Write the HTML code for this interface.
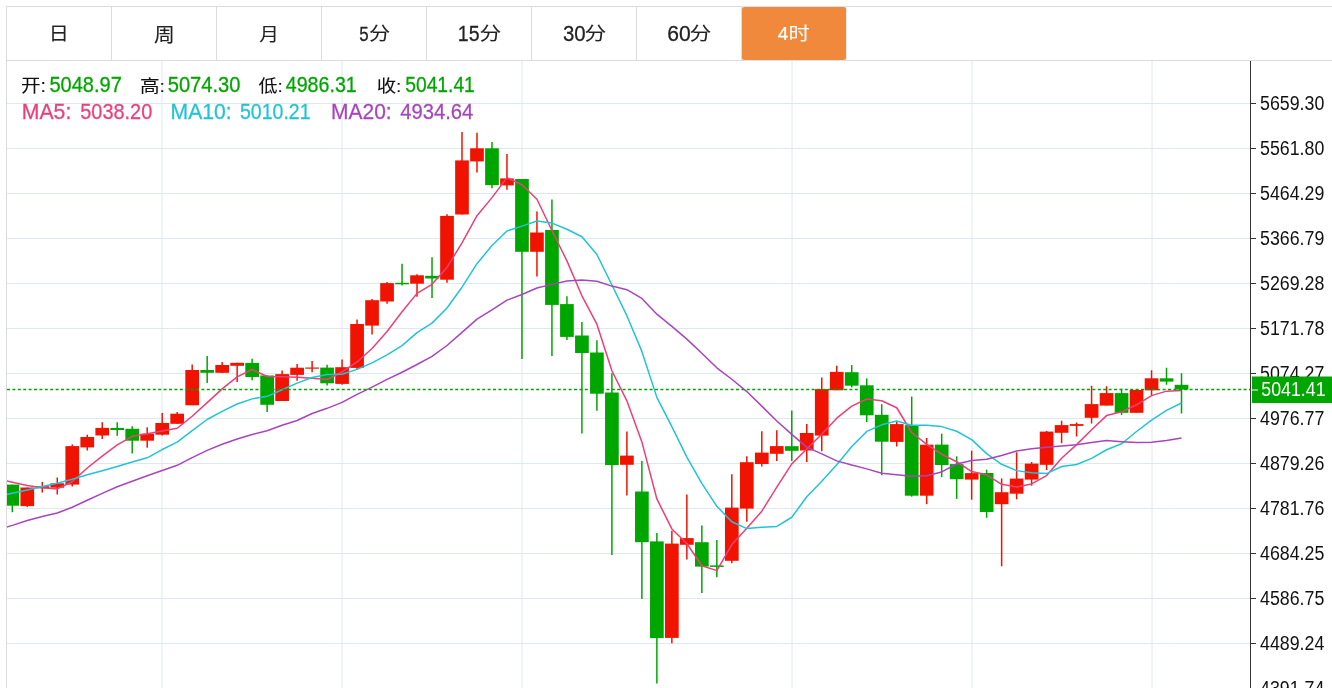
<!DOCTYPE html>
<html><head><meta charset="utf-8"><title>K线</title>
<style>
html,body{margin:0;padding:0;background:#fff;}
body{width:1332px;height:688px;overflow:hidden;position:relative;}
svg{position:absolute;left:0;top:0;}
.tab{font-family:"Liberation Sans","Noto Sans CJK SC",sans-serif;font-size:20px;fill:#222;text-anchor:middle;}
.ax{font-family:"Liberation Sans",sans-serif;font-size:19.5px;fill:#111;}
.hd{font-family:"Liberation Sans","Noto Sans CJK SC",sans-serif;font-size:20px;}
</style></head>
<body>
<svg width="1332" height="688" viewBox="0 0 1332 688">
<defs><clipPath id="pc"><rect x="7" y="61" width="1243.5" height="627"/></clipPath></defs>
<line x1="6" y1="6.5" x2="1332" y2="6.5" stroke="#dcdcdc" stroke-width="1"/>
<line x1="6" y1="60.5" x2="1332" y2="60.5" stroke="#dcdcdc" stroke-width="1"/>
<line x1="6.5" y1="6" x2="6.5" y2="688" stroke="#dcdcdc" stroke-width="1"/>
<rect x="741.5" y="6.5" width="105.5" height="54" fill="#e2e9ef"/>
<rect x="742" y="7" width="104" height="53" rx="2.5" ry="2.5" fill="#f0893c"/>
<line x1="111.5" y1="6" x2="111.5" y2="60" stroke="#dcdcdc" stroke-width="1"/>
<line x1="216.5" y1="6" x2="216.5" y2="60" stroke="#dcdcdc" stroke-width="1"/>
<line x1="321.5" y1="6" x2="321.5" y2="60" stroke="#dcdcdc" stroke-width="1"/>
<line x1="426.5" y1="6" x2="426.5" y2="60" stroke="#dcdcdc" stroke-width="1"/>
<line x1="531.5" y1="6" x2="531.5" y2="60" stroke="#dcdcdc" stroke-width="1"/>
<line x1="636.5" y1="6" x2="636.5" y2="60" stroke="#dcdcdc" stroke-width="1"/>
<line x1="741.5" y1="6" x2="741.5" y2="60" stroke="#dcdcdc" stroke-width="1"/>
<text id="t0" transform="translate(48.79,40.33) scale(0.9557,0.8822)" style='font-family:"Liberation Sans","Noto Sans CJK SC",sans-serif;font-size:21px' fill="#222" stroke="#222" stroke-width="0.08">日</text>
<text id="t1" transform="translate(153.9,41.94) scale(0.9931,0.9242)" style='font-family:"Liberation Sans","Noto Sans CJK SC",sans-serif;font-size:21px' fill="#222" stroke="#222" stroke-width="0.08">周</text>
<text id="t2" transform="translate(259.23,40.88) scale(0.936,0.862)" style='font-family:"Liberation Sans","Noto Sans CJK SC",sans-serif;font-size:21px' fill="#222" stroke="#222" stroke-width="0.08">月</text>
<text id="t3a" transform="translate(359.29,40.76) scale(0.8482,1.0544)" style='font-family:"Liberation Sans","Noto Sans CJK SC",sans-serif;font-size:20px' fill="#222" stroke="#222" stroke-width="0.25">5</text>
<text id="t3b" transform="translate(368.99,40.35) scale(1.0144,0.8762)" style='font-family:"Liberation Sans","Noto Sans CJK SC",sans-serif;font-size:21px' fill="#222" stroke="#222" stroke-width="0.08">分</text>
<text id="t4a" transform="translate(457.79,41.0) scale(0.9783,1.0891)" style='font-family:"Liberation Sans","Noto Sans CJK SC",sans-serif;font-size:20px' fill="#222" stroke="#222" stroke-width="0.25">15</text>
<text id="t4b" transform="translate(479.47,40.35) scale(1.0384,0.8762)" style='font-family:"Liberation Sans","Noto Sans CJK SC",sans-serif;font-size:21px' fill="#222" stroke="#222" stroke-width="0.08">分</text>
<text id="t5a" transform="translate(562.91,40.97) scale(1.0208,1.0891)" style='font-family:"Liberation Sans","Noto Sans CJK SC",sans-serif;font-size:20px' fill="#222" stroke="#222" stroke-width="0.25">30</text>
<text id="t5b" transform="translate(584.48,40.35) scale(1.0397,0.8762)" style='font-family:"Liberation Sans","Noto Sans CJK SC",sans-serif;font-size:21px' fill="#222" stroke="#222" stroke-width="0.08">分</text>
<text id="t6a" transform="translate(667.17,41.0) scale(1.0549,1.0891)" style='font-family:"Liberation Sans","Noto Sans CJK SC",sans-serif;font-size:20px' fill="#222" stroke="#222" stroke-width="0.25">60</text>
<text id="t6b" transform="translate(689.48,40.35) scale(1.0397,0.8762)" style='font-family:"Liberation Sans","Noto Sans CJK SC",sans-serif;font-size:21px' fill="#222" stroke="#222" stroke-width="0.08">分</text>
<text id="t7a" transform="translate(777.72,40.18) scale(0.9564,0.919)" style='font-family:"Liberation Sans","Noto Sans CJK SC",sans-serif;font-size:20px' fill="#fff" stroke="#fff" stroke-width="0.25">4</text>
<text id="t7b" transform="translate(788.61,40.16) scale(1.0111,0.8458)" style='font-family:"Liberation Sans","Noto Sans CJK SC",sans-serif;font-size:21px' fill="#fff" stroke="#fff" stroke-width="0.08">时</text>
<g clip-path="url(#pc)">
<line x1="7" y1="103.5" x2="1250" y2="103.5" stroke="#dee8f0" stroke-width="1"/>
<line x1="7" y1="148.5" x2="1250" y2="148.5" stroke="#dee8f0" stroke-width="1"/>
<line x1="7" y1="193.5" x2="1250" y2="193.5" stroke="#dee8f0" stroke-width="1"/>
<line x1="7" y1="238.5" x2="1250" y2="238.5" stroke="#dee8f0" stroke-width="1"/>
<line x1="7" y1="283.5" x2="1250" y2="283.5" stroke="#dee8f0" stroke-width="1"/>
<line x1="7" y1="328.5" x2="1250" y2="328.5" stroke="#dee8f0" stroke-width="1"/>
<line x1="7" y1="373.5" x2="1250" y2="373.5" stroke="#dee8f0" stroke-width="1"/>
<line x1="7" y1="418.5" x2="1250" y2="418.5" stroke="#dee8f0" stroke-width="1"/>
<line x1="7" y1="463.5" x2="1250" y2="463.5" stroke="#dee8f0" stroke-width="1"/>
<line x1="7" y1="508.5" x2="1250" y2="508.5" stroke="#dee8f0" stroke-width="1"/>
<line x1="7" y1="553.5" x2="1250" y2="553.5" stroke="#dee8f0" stroke-width="1"/>
<line x1="7" y1="598.5" x2="1250" y2="598.5" stroke="#dee8f0" stroke-width="1"/>
<line x1="7" y1="643.5" x2="1250" y2="643.5" stroke="#dee8f0" stroke-width="1"/>
<line x1="7" y1="688.5" x2="1250" y2="688.5" stroke="#dee8f0" stroke-width="1"/>
<line x1="162.0" y1="61" x2="162.0" y2="688" stroke="#dee8f0" stroke-width="1"/>
<line x1="342.0" y1="61" x2="342.0" y2="688" stroke="#dee8f0" stroke-width="1"/>
<line x1="522.0" y1="61" x2="522.0" y2="688" stroke="#dee8f0" stroke-width="1"/>
<line x1="792.0" y1="61" x2="792.0" y2="688" stroke="#dee8f0" stroke-width="1"/>
<line x1="972.0" y1="61" x2="972.0" y2="688" stroke="#dee8f0" stroke-width="1"/>
<line x1="1152.0" y1="61" x2="1152.0" y2="688" stroke="#dee8f0" stroke-width="1"/>
<line x1="12.30" y1="484.60" x2="12.30" y2="512.20" stroke="#00a600" stroke-width="1.5"/>
<rect x="5.45" y="484.60" width="13.7" height="21.10" fill="#00a600"/>
<line x1="27.29" y1="487.50" x2="27.29" y2="506.90" stroke="#f01400" stroke-width="1.5"/>
<rect x="20.44" y="487.50" width="13.7" height="18.60" fill="#f01400"/>
<line x1="42.28" y1="481.90" x2="42.28" y2="492.60" stroke="#f01400" stroke-width="1.5"/>
<rect x="35.43" y="486.20" width="13.7" height="2.10" fill="#f01400"/>
<line x1="57.27" y1="477.50" x2="57.27" y2="494.50" stroke="#f01400" stroke-width="1.5"/>
<rect x="50.42" y="483.30" width="13.7" height="4.40" fill="#f01400"/>
<line x1="72.26" y1="444.40" x2="72.26" y2="486.50" stroke="#f01400" stroke-width="1.5"/>
<rect x="65.41" y="446.10" width="13.7" height="38.50" fill="#f01400"/>
<line x1="87.25" y1="434.70" x2="87.25" y2="450.60" stroke="#f01400" stroke-width="1.5"/>
<rect x="80.40" y="437.00" width="13.7" height="10.40" fill="#f01400"/>
<line x1="102.24" y1="422.30" x2="102.24" y2="439.00" stroke="#f01400" stroke-width="1.5"/>
<rect x="95.39" y="427.90" width="13.7" height="7.60" fill="#f01400"/>
<line x1="117.23" y1="422.30" x2="117.23" y2="435.80" stroke="#00a600" stroke-width="1.5"/>
<rect x="110.38" y="427.90" width="13.7" height="2.10" fill="#00a600"/>
<line x1="132.22" y1="426.20" x2="132.22" y2="453.50" stroke="#00a600" stroke-width="1.5"/>
<rect x="125.37" y="428.80" width="13.7" height="11.90" fill="#00a600"/>
<line x1="147.21" y1="427.30" x2="147.21" y2="447.70" stroke="#f01400" stroke-width="1.5"/>
<rect x="140.36" y="433.70" width="13.7" height="7.00" fill="#f01400"/>
<line x1="162.20" y1="413.00" x2="162.20" y2="435.50" stroke="#f01400" stroke-width="1.5"/>
<rect x="155.35" y="423.00" width="13.7" height="11.70" fill="#f01400"/>
<line x1="177.19" y1="411.90" x2="177.19" y2="423.80" stroke="#f01400" stroke-width="1.5"/>
<rect x="170.34" y="413.70" width="13.7" height="10.10" fill="#f01400"/>
<line x1="192.18" y1="364.40" x2="192.18" y2="405.30" stroke="#f01400" stroke-width="1.5"/>
<rect x="185.33" y="370.00" width="13.7" height="35.30" fill="#f01400"/>
<line x1="207.17" y1="356.00" x2="207.17" y2="383.00" stroke="#00a600" stroke-width="1.5"/>
<rect x="200.32" y="370.00" width="13.7" height="2.80" fill="#00a600"/>
<line x1="222.16" y1="361.90" x2="222.16" y2="373.10" stroke="#f01400" stroke-width="1.5"/>
<rect x="215.31" y="365.00" width="13.7" height="7.80" fill="#f01400"/>
<line x1="237.15" y1="362.80" x2="237.15" y2="381.90" stroke="#f01400" stroke-width="1.5"/>
<rect x="230.30" y="362.80" width="13.7" height="3.00" fill="#f01400"/>
<line x1="252.14" y1="358.80" x2="252.14" y2="380.30" stroke="#00a600" stroke-width="1.5"/>
<rect x="245.29" y="362.90" width="13.7" height="14.10" fill="#00a600"/>
<line x1="267.13" y1="375.50" x2="267.13" y2="411.90" stroke="#00a600" stroke-width="1.5"/>
<rect x="260.28" y="375.50" width="13.7" height="29.30" fill="#00a600"/>
<line x1="282.12" y1="370.50" x2="282.12" y2="401.00" stroke="#f01400" stroke-width="1.5"/>
<rect x="275.27" y="374.10" width="13.7" height="26.90" fill="#f01400"/>
<line x1="297.11" y1="364.10" x2="297.11" y2="380.70" stroke="#f01400" stroke-width="1.5"/>
<rect x="290.26" y="367.70" width="13.7" height="7.20" fill="#f01400"/>
<line x1="312.10" y1="361.00" x2="312.10" y2="372.20" stroke="#f01400" stroke-width="1.5"/>
<rect x="305.25" y="367.50" width="13.7" height="1.20" fill="#f01400"/>
<line x1="327.09" y1="364.70" x2="327.09" y2="385.50" stroke="#00a600" stroke-width="1.5"/>
<rect x="320.24" y="367.60" width="13.7" height="15.70" fill="#00a600"/>
<line x1="342.08" y1="359.60" x2="342.08" y2="384.70" stroke="#f01400" stroke-width="1.5"/>
<rect x="335.23" y="367.20" width="13.7" height="16.70" fill="#f01400"/>
<line x1="357.07" y1="319.60" x2="357.07" y2="369.50" stroke="#f01400" stroke-width="1.5"/>
<rect x="350.22" y="324.00" width="13.7" height="43.90" fill="#f01400"/>
<line x1="372.06" y1="299.10" x2="372.06" y2="334.60" stroke="#f01400" stroke-width="1.5"/>
<rect x="365.21" y="300.20" width="13.7" height="25.40" fill="#f01400"/>
<line x1="387.05" y1="282.00" x2="387.05" y2="303.70" stroke="#f01400" stroke-width="1.5"/>
<rect x="380.20" y="283.10" width="13.7" height="18.40" fill="#f01400"/>
<line x1="402.04" y1="263.70" x2="402.04" y2="285.50" stroke="#00a600" stroke-width="1.5"/>
<rect x="395.19" y="282.80" width="13.7" height="1.50" fill="#00a600"/>
<line x1="417.03" y1="274.20" x2="417.03" y2="296.70" stroke="#f01400" stroke-width="1.5"/>
<rect x="410.18" y="275.30" width="13.7" height="8.40" fill="#f01400"/>
<line x1="432.02" y1="257.20" x2="432.02" y2="297.90" stroke="#00a600" stroke-width="1.5"/>
<rect x="425.17" y="275.80" width="13.7" height="2.70" fill="#00a600"/>
<line x1="447.01" y1="214.20" x2="447.01" y2="282.80" stroke="#f01400" stroke-width="1.5"/>
<rect x="440.16" y="215.90" width="13.7" height="63.80" fill="#f01400"/>
<line x1="462.00" y1="131.90" x2="462.00" y2="214.50" stroke="#f01400" stroke-width="1.5"/>
<rect x="455.15" y="160.40" width="13.7" height="54.10" fill="#f01400"/>
<line x1="476.99" y1="132.80" x2="476.99" y2="172.60" stroke="#f01400" stroke-width="1.5"/>
<rect x="470.14" y="148.30" width="13.7" height="13.10" fill="#f01400"/>
<line x1="491.98" y1="142.10" x2="491.98" y2="188.30" stroke="#00a600" stroke-width="1.5"/>
<rect x="485.13" y="148.30" width="13.7" height="36.80" fill="#00a600"/>
<line x1="506.97" y1="153.90" x2="506.97" y2="189.80" stroke="#f01400" stroke-width="1.5"/>
<rect x="500.12" y="178.40" width="13.7" height="7.00" fill="#f01400"/>
<line x1="521.96" y1="179.00" x2="521.96" y2="359.10" stroke="#00a600" stroke-width="1.5"/>
<rect x="515.11" y="179.00" width="13.7" height="72.80" fill="#00a600"/>
<line x1="536.95" y1="211.40" x2="536.95" y2="276.60" stroke="#f01400" stroke-width="1.5"/>
<rect x="530.10" y="232.50" width="13.7" height="19.30" fill="#f01400"/>
<line x1="551.94" y1="199.40" x2="551.94" y2="355.90" stroke="#00a600" stroke-width="1.5"/>
<rect x="545.09" y="229.90" width="13.7" height="75.00" fill="#00a600"/>
<line x1="566.93" y1="296.20" x2="566.93" y2="339.90" stroke="#00a600" stroke-width="1.5"/>
<rect x="560.08" y="304.10" width="13.7" height="32.80" fill="#00a600"/>
<line x1="581.92" y1="322.00" x2="581.92" y2="433.50" stroke="#00a600" stroke-width="1.5"/>
<rect x="575.07" y="335.50" width="13.7" height="17.50" fill="#00a600"/>
<line x1="596.91" y1="340.20" x2="596.91" y2="410.70" stroke="#00a600" stroke-width="1.5"/>
<rect x="590.06" y="352.50" width="13.7" height="41.20" fill="#00a600"/>
<line x1="611.90" y1="373.30" x2="611.90" y2="554.90" stroke="#00a600" stroke-width="1.5"/>
<rect x="605.05" y="392.50" width="13.7" height="72.60" fill="#00a600"/>
<line x1="626.89" y1="431.60" x2="626.89" y2="495.60" stroke="#f01400" stroke-width="1.5"/>
<rect x="620.04" y="455.60" width="13.7" height="9.20" fill="#f01400"/>
<line x1="641.88" y1="461.10" x2="641.88" y2="598.90" stroke="#00a600" stroke-width="1.5"/>
<rect x="635.03" y="491.50" width="13.7" height="50.70" fill="#00a600"/>
<line x1="656.87" y1="533.10" x2="656.87" y2="683.60" stroke="#00a600" stroke-width="1.5"/>
<rect x="650.02" y="541.40" width="13.7" height="96.70" fill="#00a600"/>
<line x1="671.86" y1="530.80" x2="671.86" y2="643.20" stroke="#f01400" stroke-width="1.5"/>
<rect x="665.01" y="543.60" width="13.7" height="94.30" fill="#f01400"/>
<line x1="686.85" y1="494.40" x2="686.85" y2="559.60" stroke="#f01400" stroke-width="1.5"/>
<rect x="680.00" y="538.10" width="13.7" height="6.70" fill="#f01400"/>
<line x1="701.84" y1="525.40" x2="701.84" y2="593.10" stroke="#00a600" stroke-width="1.5"/>
<rect x="694.99" y="542.20" width="13.7" height="24.40" fill="#00a600"/>
<line x1="716.83" y1="540.00" x2="716.83" y2="577.30" stroke="#00a600" stroke-width="1.5"/>
<rect x="709.98" y="565.40" width="13.7" height="1.50" fill="#00a600"/>
<line x1="731.82" y1="474.20" x2="731.82" y2="563.20" stroke="#f01400" stroke-width="1.5"/>
<rect x="724.97" y="507.60" width="13.7" height="53.20" fill="#f01400"/>
<line x1="746.81" y1="456.30" x2="746.81" y2="521.70" stroke="#f01400" stroke-width="1.5"/>
<rect x="739.96" y="462.20" width="13.7" height="46.40" fill="#f01400"/>
<line x1="761.80" y1="431.20" x2="761.80" y2="466.60" stroke="#f01400" stroke-width="1.5"/>
<rect x="754.95" y="452.60" width="13.7" height="11.40" fill="#f01400"/>
<line x1="776.79" y1="430.20" x2="776.79" y2="461.10" stroke="#f01400" stroke-width="1.5"/>
<rect x="769.94" y="446.10" width="13.7" height="7.70" fill="#f01400"/>
<line x1="791.78" y1="410.60" x2="791.78" y2="461.10" stroke="#00a600" stroke-width="1.5"/>
<rect x="784.93" y="446.20" width="13.7" height="4.60" fill="#00a600"/>
<line x1="806.77" y1="424.00" x2="806.77" y2="462.10" stroke="#f01400" stroke-width="1.5"/>
<rect x="799.92" y="433.00" width="13.7" height="17.50" fill="#f01400"/>
<line x1="821.76" y1="377.40" x2="821.76" y2="451.30" stroke="#f01400" stroke-width="1.5"/>
<rect x="814.91" y="389.10" width="13.7" height="46.50" fill="#f01400"/>
<line x1="836.75" y1="365.80" x2="836.75" y2="390.20" stroke="#f01400" stroke-width="1.5"/>
<rect x="829.90" y="371.90" width="13.7" height="18.30" fill="#f01400"/>
<line x1="851.74" y1="365.10" x2="851.74" y2="387.40" stroke="#00a600" stroke-width="1.5"/>
<rect x="844.89" y="372.20" width="13.7" height="13.50" fill="#00a600"/>
<line x1="866.73" y1="378.40" x2="866.73" y2="422.00" stroke="#00a600" stroke-width="1.5"/>
<rect x="859.88" y="385.30" width="13.7" height="30.00" fill="#00a600"/>
<line x1="881.72" y1="404.20" x2="881.72" y2="475.30" stroke="#00a600" stroke-width="1.5"/>
<rect x="874.87" y="414.80" width="13.7" height="26.90" fill="#00a600"/>
<line x1="896.71" y1="422.00" x2="896.71" y2="446.50" stroke="#f01400" stroke-width="1.5"/>
<rect x="889.86" y="424.10" width="13.7" height="17.80" fill="#f01400"/>
<line x1="911.70" y1="396.50" x2="911.70" y2="496.70" stroke="#00a600" stroke-width="1.5"/>
<rect x="904.85" y="425.20" width="13.7" height="70.50" fill="#00a600"/>
<line x1="926.69" y1="438.00" x2="926.69" y2="504.20" stroke="#f01400" stroke-width="1.5"/>
<rect x="919.84" y="444.70" width="13.7" height="51.00" fill="#f01400"/>
<line x1="941.68" y1="433.70" x2="941.68" y2="477.10" stroke="#00a600" stroke-width="1.5"/>
<rect x="934.83" y="444.60" width="13.7" height="20.40" fill="#00a600"/>
<line x1="956.67" y1="456.30" x2="956.67" y2="498.90" stroke="#00a600" stroke-width="1.5"/>
<rect x="949.82" y="464.10" width="13.7" height="15.10" fill="#00a600"/>
<line x1="971.66" y1="450.70" x2="971.66" y2="499.70" stroke="#f01400" stroke-width="1.5"/>
<rect x="964.81" y="473.10" width="13.7" height="6.50" fill="#f01400"/>
<line x1="986.65" y1="469.70" x2="986.65" y2="517.80" stroke="#00a600" stroke-width="1.5"/>
<rect x="979.80" y="473.00" width="13.7" height="39.00" fill="#00a600"/>
<line x1="1001.64" y1="478.40" x2="1001.64" y2="566.30" stroke="#f01400" stroke-width="1.5"/>
<rect x="994.79" y="492.20" width="13.7" height="12.00" fill="#f01400"/>
<line x1="1016.63" y1="452.30" x2="1016.63" y2="499.30" stroke="#f01400" stroke-width="1.5"/>
<rect x="1009.78" y="478.60" width="13.7" height="15.10" fill="#f01400"/>
<line x1="1031.62" y1="461.90" x2="1031.62" y2="485.70" stroke="#f01400" stroke-width="1.5"/>
<rect x="1024.77" y="463.60" width="13.7" height="16.00" fill="#f01400"/>
<line x1="1046.61" y1="430.90" x2="1046.61" y2="470.10" stroke="#f01400" stroke-width="1.5"/>
<rect x="1039.76" y="431.60" width="13.7" height="33.20" fill="#f01400"/>
<line x1="1061.60" y1="420.70" x2="1061.60" y2="443.30" stroke="#f01400" stroke-width="1.5"/>
<rect x="1054.75" y="425.10" width="13.7" height="7.70" fill="#f01400"/>
<line x1="1076.59" y1="422.40" x2="1076.59" y2="436.40" stroke="#f01400" stroke-width="1.5"/>
<rect x="1069.74" y="424.10" width="13.7" height="1.80" fill="#f01400"/>
<line x1="1091.58" y1="385.80" x2="1091.58" y2="423.60" stroke="#f01400" stroke-width="1.5"/>
<rect x="1084.73" y="404.10" width="13.7" height="13.70" fill="#f01400"/>
<line x1="1106.57" y1="386.30" x2="1106.57" y2="405.60" stroke="#f01400" stroke-width="1.5"/>
<rect x="1099.72" y="393.10" width="13.7" height="12.50" fill="#f01400"/>
<line x1="1121.56" y1="388.70" x2="1121.56" y2="414.90" stroke="#00a600" stroke-width="1.5"/>
<rect x="1114.71" y="393.10" width="13.7" height="19.70" fill="#00a600"/>
<line x1="1136.55" y1="389.90" x2="1136.55" y2="412.80" stroke="#f01400" stroke-width="1.5"/>
<rect x="1129.70" y="389.90" width="13.7" height="22.90" fill="#f01400"/>
<line x1="1151.54" y1="370.30" x2="1151.54" y2="395.00" stroke="#f01400" stroke-width="1.5"/>
<rect x="1144.69" y="378.30" width="13.7" height="12.00" fill="#f01400"/>
<line x1="1166.53" y1="367.80" x2="1166.53" y2="384.80" stroke="#00a600" stroke-width="1.5"/>
<rect x="1159.68" y="378.30" width="13.7" height="3.30" fill="#00a600"/>
<line x1="1181.52" y1="373.20" x2="1181.52" y2="413.60" stroke="#00a600" stroke-width="1.5"/>
<rect x="1174.67" y="384.80" width="13.7" height="4.80" fill="#00a600"/>
<polyline points="6.00,480.70 12.30,482.20 27.29,485.60 42.28,487.80 57.27,488.90 72.26,481.76 87.25,468.02 102.24,456.10 117.23,444.86 132.22,436.34 147.21,433.86 162.20,431.06 177.19,428.22 192.18,416.22 207.17,402.64 222.16,388.90 237.15,376.86 252.14,369.52 267.13,376.48 282.12,376.74 297.11,377.28 312.10,378.24 327.09,379.50 342.08,371.98 357.07,361.96 372.06,348.46 387.05,331.56 402.04,311.76 417.03,293.38 432.02,284.28 447.01,267.42 462.00,242.88 476.99,215.68 491.98,197.64 506.97,177.62 521.96,184.80 536.95,199.22 551.94,230.54 566.93,260.90 581.92,295.82 596.91,324.20 611.90,370.72 626.89,400.86 641.88,441.92 656.87,498.94 671.86,528.92 686.85,543.52 701.84,565.72 716.83,570.66 731.82,544.56 746.81,528.28 761.80,511.18 776.79,487.08 791.78,463.86 806.77,448.94 821.76,434.32 836.75,418.18 851.74,406.10 866.73,399.00 881.72,400.74 896.71,407.74 911.70,432.50 926.69,444.30 941.68,454.24 956.67,461.74 971.66,471.54 986.65,474.80 1001.64,484.30 1016.63,487.02 1031.62,483.90 1046.61,475.60 1061.60,458.22 1076.59,444.60 1091.58,429.70 1106.57,415.60 1121.56,411.84 1136.55,404.80 1151.54,395.64 1166.53,391.14 1181.52,390.44" fill="none" stroke="#ec3f7a" stroke-width="1.5" stroke-linejoin="round"/>
<polyline points="6.00,494.60 12.30,493.20 27.29,489.90 42.28,486.50 57.27,483.20 72.26,479.20 87.25,474.70 102.24,470.70 117.23,466.50 132.22,462.00 147.21,457.81 162.20,449.54 177.19,442.16 192.18,430.54 207.17,419.49 222.16,411.38 237.15,403.96 252.14,398.87 267.13,396.35 282.12,389.69 297.11,383.09 312.10,377.55 327.09,374.51 342.08,374.23 357.07,369.35 372.06,362.87 387.05,354.90 402.04,345.63 417.03,332.68 432.02,323.12 447.01,307.94 462.00,287.22 476.99,263.72 491.98,245.51 506.97,230.95 521.96,226.11 536.95,221.05 551.94,223.11 566.93,229.27 581.92,236.72 596.91,254.50 611.90,284.97 626.89,315.70 641.88,351.41 656.87,397.38 671.86,426.56 686.85,457.12 701.84,483.29 716.83,506.29 731.82,521.75 746.81,528.60 761.80,527.35 776.79,526.40 791.78,517.26 806.77,496.75 821.76,481.30 836.75,464.68 851.74,446.59 866.73,431.43 881.72,424.84 896.71,421.03 911.70,425.34 926.69,425.20 941.68,426.62 956.67,431.24 971.66,439.64 986.65,453.65 1001.64,464.30 1016.63,470.63 1031.62,472.82 1046.61,473.57 1061.60,466.51 1076.59,464.45 1091.58,458.36 1106.57,449.75 1121.56,443.72 1136.55,431.51 1151.54,420.12 1166.53,410.42 1181.52,403.02" fill="none" stroke="#22c3d8" stroke-width="1.5" stroke-linejoin="round"/>
<polyline points="6.00,527.40 12.30,525.40 27.29,520.50 42.28,516.50 57.27,513.00 72.26,507.30 87.25,500.30 102.24,493.40 117.23,486.80 132.22,481.30 147.21,475.80 162.20,470.50 177.19,465.30 192.18,457.70 207.17,450.40 222.16,444.30 237.15,439.00 252.14,434.50 267.13,430.80 282.12,425.30 297.11,420.45 312.10,413.54 327.09,408.33 342.08,402.38 357.07,394.42 372.06,387.12 387.05,379.43 402.04,372.25 417.03,364.51 432.02,356.41 447.01,345.51 462.00,332.38 476.99,319.12 491.98,309.87 506.97,300.15 521.96,294.49 536.95,287.98 551.94,284.37 566.93,280.98 581.92,279.92 596.91,281.22 611.90,286.09 626.89,289.71 641.88,298.46 656.87,314.17 671.86,326.33 686.85,339.08 701.84,353.20 716.83,367.78 731.82,379.24 746.81,391.55 761.80,406.16 776.79,421.05 791.78,434.34 806.77,447.06 821.76,453.93 836.75,460.90 851.74,464.94 866.73,468.86 881.72,473.29 896.71,474.82 911.70,476.34 926.69,475.80 941.68,471.94 956.67,464.00 971.66,460.47 986.65,459.16 1001.64,455.44 1016.63,451.03 1031.62,448.83 1046.61,447.30 1061.60,445.93 1076.59,444.82 1091.58,442.49 1106.57,440.50 1121.56,441.68 1136.55,442.58 1151.54,442.21 1166.53,440.52 1181.52,437.92" fill="none" stroke="#a845be" stroke-width="1.5" stroke-linejoin="round"/>
</g>
<line x1="1250.5" y1="61" x2="1250.5" y2="688" stroke="#333" stroke-width="1"/>
<line x1="1251" y1="103.5" x2="1256" y2="103.5" stroke="#333" stroke-width="1"/>
<text x="1260" y="110.1" class="ax" textLength="64.3" lengthAdjust="spacingAndGlyphs">5659.30</text>
<line x1="1251" y1="148.5" x2="1256" y2="148.5" stroke="#333" stroke-width="1"/>
<text x="1260" y="155.1" class="ax" textLength="64.3" lengthAdjust="spacingAndGlyphs">5561.80</text>
<line x1="1251" y1="193.5" x2="1256" y2="193.5" stroke="#333" stroke-width="1"/>
<text x="1260" y="200.1" class="ax" textLength="64.3" lengthAdjust="spacingAndGlyphs">5464.29</text>
<line x1="1251" y1="238.5" x2="1256" y2="238.5" stroke="#333" stroke-width="1"/>
<text x="1260" y="245.1" class="ax" textLength="64.3" lengthAdjust="spacingAndGlyphs">5366.79</text>
<line x1="1251" y1="283.5" x2="1256" y2="283.5" stroke="#333" stroke-width="1"/>
<text x="1260" y="290.1" class="ax" textLength="64.3" lengthAdjust="spacingAndGlyphs">5269.28</text>
<line x1="1251" y1="328.5" x2="1256" y2="328.5" stroke="#333" stroke-width="1"/>
<text x="1260" y="335.1" class="ax" textLength="64.3" lengthAdjust="spacingAndGlyphs">5171.78</text>
<line x1="1251" y1="373.5" x2="1256" y2="373.5" stroke="#333" stroke-width="1"/>
<text x="1260" y="380.1" class="ax" textLength="64.3" lengthAdjust="spacingAndGlyphs">5074.27</text>
<line x1="1251" y1="418.5" x2="1256" y2="418.5" stroke="#333" stroke-width="1"/>
<text x="1260" y="425.1" class="ax" textLength="64.3" lengthAdjust="spacingAndGlyphs">4976.77</text>
<line x1="1251" y1="463.5" x2="1256" y2="463.5" stroke="#333" stroke-width="1"/>
<text x="1260" y="470.1" class="ax" textLength="64.3" lengthAdjust="spacingAndGlyphs">4879.26</text>
<line x1="1251" y1="508.5" x2="1256" y2="508.5" stroke="#333" stroke-width="1"/>
<text x="1260" y="515.1" class="ax" textLength="64.3" lengthAdjust="spacingAndGlyphs">4781.76</text>
<line x1="1251" y1="553.5" x2="1256" y2="553.5" stroke="#333" stroke-width="1"/>
<text x="1260" y="560.1" class="ax" textLength="64.3" lengthAdjust="spacingAndGlyphs">4684.25</text>
<line x1="1251" y1="598.5" x2="1256" y2="598.5" stroke="#333" stroke-width="1"/>
<text x="1260" y="605.1" class="ax" textLength="64.3" lengthAdjust="spacingAndGlyphs">4586.75</text>
<line x1="1251" y1="643.5" x2="1256" y2="643.5" stroke="#333" stroke-width="1"/>
<text x="1260" y="650.1" class="ax" textLength="64.3" lengthAdjust="spacingAndGlyphs">4489.24</text>
<line x1="1251" y1="688.5" x2="1256" y2="688.5" stroke="#333" stroke-width="1"/>
<text x="1260" y="695.1" class="ax" textLength="64.3" lengthAdjust="spacingAndGlyphs">4391.74</text>
<line x1="7" y1="389.6" x2="1250" y2="389.6" stroke="#00a600" stroke-width="1.5" stroke-dasharray="3 2.4"/>
<rect x="1252" y="376.5" width="80" height="26.5" fill="#00a600"/>
<line x1="1252" y1="390" x2="1258" y2="390" stroke="#fff" stroke-width="1"/>
<text x="1261.3" y="396.1" class="ax" fill="#fff" style="fill:#fff" textLength="64.3" lengthAdjust="spacingAndGlyphs">5041.41</text>
<text id="h1" transform="translate(20.99,91.76) scale(0.9809,0.8822)" style='font-family:"Liberation Sans","Noto Sans CJK SC",sans-serif;font-size:20px' fill="#111" stroke="#111" stroke-width="0.08">开:</text>
<text id="h3" transform="translate(139.98,92.03) scale(0.9809,0.8479)" style='font-family:"Liberation Sans","Noto Sans CJK SC",sans-serif;font-size:20px' fill="#111" stroke="#111" stroke-width="0.08">高:</text>
<text id="h5" transform="translate(258.47,91.83) scale(0.9504,0.8479)" style='font-family:"Liberation Sans","Noto Sans CJK SC",sans-serif;font-size:20px' fill="#111" stroke="#111" stroke-width="0.08">低:</text>
<text id="h7" transform="translate(376.76,91.83) scale(0.9683,0.8479)" style='font-family:"Liberation Sans","Noto Sans CJK SC",sans-serif;font-size:20px' fill="#111" stroke="#111" stroke-width="0.08">收:</text>
<text id="h2" transform="translate(49.48,92.0) scale(1.0011,1.0891)" style='font-family:"Liberation Sans","Noto Sans CJK SC",sans-serif;font-size:20px' fill="#00a600" stroke="#00a600" stroke-width="0.25">5048.97</text>
<text id="h4" transform="translate(167.71,92.0) scale(1.0073,1.0891)" style='font-family:"Liberation Sans","Noto Sans CJK SC",sans-serif;font-size:20px' fill="#00a600" stroke="#00a600" stroke-width="0.25">5074.30</text>
<text id="h6" transform="translate(285.76,92.0) scale(0.9825,1.0891)" style='font-family:"Liberation Sans","Noto Sans CJK SC",sans-serif;font-size:20px' fill="#00a600" stroke="#00a600" stroke-width="0.25">4986.31</text>
<text id="h8" transform="translate(405.24,92.0) scale(0.9624,1.0891)" style='font-family:"Liberation Sans","Noto Sans CJK SC",sans-serif;font-size:20px' fill="#00a600" stroke="#00a600" stroke-width="0.25">5041.41</text>
<text id="m1" transform="translate(21.79,118.98) scale(1.0603,1.0702)" style='font-family:"Liberation Sans","Noto Sans CJK SC",sans-serif;font-size:20px' fill="#ec3f7a" stroke="#ec3f7a" stroke-width="0.25">MA5:</text>
<text id="m2" transform="translate(80.22,118.98) scale(0.9966,1.0702)" style='font-family:"Liberation Sans","Noto Sans CJK SC",sans-serif;font-size:20px' fill="#ec3f7a" stroke="#ec3f7a" stroke-width="0.25">5038.20</text>
<text id="m3" transform="translate(170.57,118.98) scale(1.0569,1.0702)" style='font-family:"Liberation Sans","Noto Sans CJK SC",sans-serif;font-size:20px' fill="#22c3d8" stroke="#22c3d8" stroke-width="0.25">MA10:</text>
<text id="m4" transform="translate(239.99,118.98) scale(0.9758,1.0702)" style='font-family:"Liberation Sans","Noto Sans CJK SC",sans-serif;font-size:20px' fill="#22c3d8" stroke="#22c3d8" stroke-width="0.25">5010.21</text>
<text id="m5" transform="translate(331.11,118.98) scale(1.0482,1.0702)" style='font-family:"Liberation Sans","Noto Sans CJK SC",sans-serif;font-size:20px' fill="#a845be" stroke="#a845be" stroke-width="0.25">MA20:</text>
<text id="m6" transform="translate(400.24,118.98) scale(1.0109,1.0702)" style='font-family:"Liberation Sans","Noto Sans CJK SC",sans-serif;font-size:20px' fill="#a845be" stroke="#a845be" stroke-width="0.25">4934.64</text>
</svg>
</body></html>
